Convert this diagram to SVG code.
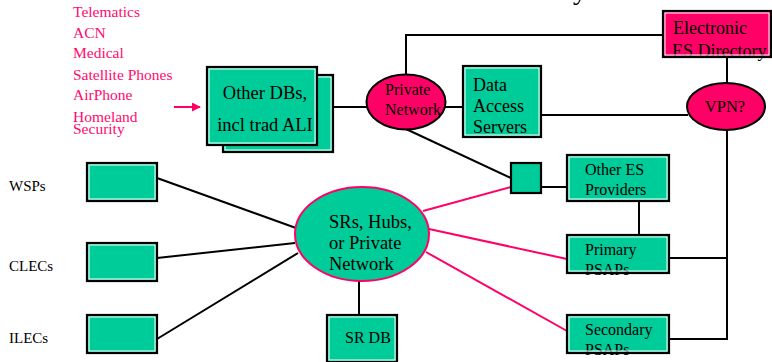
<svg xmlns="http://www.w3.org/2000/svg" width="772" height="362" viewBox="0 0 772 362">
<style>
text{font-family:"Liberation Serif","Times New Roman",serif;fill:#000}
.box{fill:#00CC99;stroke:none}
.bd{fill:none;stroke:#000;stroke-width:2.2}
.hi{fill:none;stroke:#fff;stroke-width:1}
.ln{stroke:#000;stroke-width:2;fill:none}
.pk{stroke:#FF0066;stroke-width:2;fill:none}
.pt{fill:#FF0A6E;font-size:15.5px}
.t17{font-size:18px}
.t15{font-size:16px}
.lab{font-size:15px}
</style>
<defs>
<marker id="ah" viewBox="0 0 10 10" refX="9" refY="5" markerWidth="9" markerHeight="9" markerUnits="userSpaceOnUse" orient="auto">
<path d="M0,0 L10,5 L0,10 z" fill="#FF0066"/>
</marker>
</defs>

<!-- cut-off title descender -->
<text x="573" y="-1" style="font-size:28px">y</text>

<g id="sources">
<text class="pt" x="73" y="17">Telematics</text>
<text class="pt" x="73" y="38">ACN</text>
<text class="pt" x="73" y="58">Medical</text>
<text class="pt" x="73" y="80">Satellite Phones</text>
<text class="pt" x="73" y="100">AirPhone</text>
<text class="pt" x="73" y="122">Homeland</text>
<text class="pt" x="73" y="134">Security</text>
</g>

<g id="connectors">
<line class="pk" x1="174" y1="107" x2="200" y2="107" marker-end="url(#ah)"/>
<line class="ln" x1="333" y1="107" x2="367" y2="107"/>
<polyline class="ln" points="406,75 406,35 663,35"/>
<line class="ln" x1="445" y1="107" x2="463" y2="107"/>
<line class="ln" x1="541" y1="115" x2="688" y2="115"/>
<line class="ln" x1="727" y1="57" x2="727" y2="83"/>
<polyline class="ln" points="727,130 727,339 669,339"/>
<line class="ln" x1="669" y1="258" x2="727" y2="258"/>
<line class="ln" x1="406" y1="129" x2="511" y2="178"/>
<line class="ln" x1="541" y1="187" x2="567" y2="187"/>
<line class="ln" x1="639" y1="201" x2="639" y2="235"/>
<line class="pk" x1="423" y1="211" x2="511" y2="187"/>
<line class="pk" x1="429" y1="229" x2="567" y2="259"/>
<line class="pk" x1="426" y1="252" x2="567" y2="331"/>
<line class="ln" x1="157" y1="178" x2="296" y2="228"/>
<line class="ln" x1="157" y1="258" x2="295" y2="243"/>
<line class="ln" x1="157" y1="339" x2="298" y2="253"/>
<line class="ln" x1="359" y1="281" x2="359" y2="314"/>
</g>

<g id="other-dbs">
<rect class="box" x="223" y="75" width="110" height="77"/>
<rect class="bd" x="223" y="75" width="110" height="77"/>
<rect class="hi" x="225" y="77" width="106" height="73"/>
<rect class="box" x="207" y="67" width="110" height="78"/>
<rect class="bd" x="207" y="67" width="110" height="78"/>
<rect class="hi" x="209" y="69" width="106" height="74"/>
<text x="265" y="99" text-anchor="middle" style="font-size:18.5px">Other DBs,</text>
<text x="265" y="131" text-anchor="middle" style="font-size:18.5px">incl trad ALI</text>
</g>

<g id="private-network">
<ellipse cx="406" cy="102" rx="39.5" ry="27.5" fill="#FF0066" stroke="#000" stroke-width="2"/>
<text x="385" y="95" style="font-size:16px">Private</text>
<text x="385" y="115" style="font-size:16px">Network</text>
</g>

<g id="data-access">
<rect class="box" x="463" y="66" width="78" height="71"/>
<text class="t17" x="473" y="91">Data</text>
<text class="t17" x="473" y="112">Access</text>
<text class="t17" x="473" y="133">Servers</text>
<rect class="bd" x="463" y="66" width="78" height="71"/>
<rect class="hi" x="465" y="68" width="74" height="67"/>
</g>

<g id="es-directory">
<rect x="663" y="11" width="108" height="46" fill="#FF0066"/>
<text class="t17" x="673" y="34">Electronic</text>
<text class="t17" x="672" y="57">ES Directory</text>
<rect class="bd" x="663" y="11" width="108" height="46"/>
<rect class="hi" x="665" y="13" width="104" height="42"/>
</g>

<g id="vpn">
<ellipse cx="726" cy="106.5" rx="39" ry="23.5" fill="#FF0066" stroke="#000" stroke-width="2"/>
<text x="725" y="112" text-anchor="middle" style="font-size:16.5px">VPN?</text>
</g>

<g id="junction">
<rect class="box" x="511" y="163" width="30" height="30"/>
<rect class="bd" x="511" y="163" width="30" height="30"/>
</g>

<g id="other-es">
<rect class="box" x="567" y="155" width="102" height="46"/>
<text class="t15" x="585" y="175">Other ES</text>
<text class="t15" x="585" y="195">Providers</text>
<rect class="bd" x="567" y="155" width="102" height="46"/>
<rect class="hi" x="569" y="157" width="98" height="42"/>
</g>

<g id="primary">
<rect class="box" x="567" y="235" width="102" height="38"/>
<text class="t15" x="585" y="255">Primary</text>
<text class="t15" x="585" y="275">PSAPs</text>
<rect class="bd" x="567" y="235" width="102" height="38"/>
<rect class="hi" x="569" y="237" width="98" height="34"/>
</g>

<g id="secondary">
<rect class="box" x="567" y="315" width="102" height="38"/>
<text class="t15" x="585" y="335">Secondary</text>
<text class="t15" x="585" y="355">PSAPs</text>
<rect class="bd" x="567" y="315" width="102" height="38"/>
<rect class="hi" x="569" y="317" width="98" height="34"/>
</g>

<g id="srs">
<ellipse cx="362" cy="234" rx="67" ry="47" fill="#00CC99" stroke="#FF0066" stroke-width="2"/>
<text x="329" y="228" style="font-size:18.5px">SRs, Hubs,</text>
<text x="329" y="249" style="font-size:18.5px">or Private</text>
<text x="329" y="270" style="font-size:18.5px">Network</text>
</g>

<g id="srdb">
<rect class="box" x="327" y="315" width="70" height="47"/>
<rect class="bd" x="327" y="315" width="70" height="47"/>
<rect class="hi" x="329" y="317" width="66" height="43"/>
<text x="345" y="343" style="font-size:16px">SR DB</text>
</g>

<g id="wsps">
<rect class="box" x="87" y="163" width="70" height="38"/>
<rect class="bd" x="87" y="163" width="70" height="38"/>
<rect class="hi" x="89" y="165" width="66" height="34"/>
<text class="lab" x="9" y="191">WSPs</text>
</g>

<g id="clecs">
<rect class="box" x="87" y="243" width="70" height="38"/>
<rect class="bd" x="87" y="243" width="70" height="38"/>
<rect class="hi" x="89" y="245" width="66" height="34"/>
<text class="lab" x="9" y="271">CLECs</text>
</g>

<g id="ilecs">
<rect class="box" x="87" y="315" width="70" height="38"/>
<rect class="bd" x="87" y="315" width="70" height="38"/>
<rect class="hi" x="89" y="317" width="66" height="34"/>
<text class="lab" x="9" y="343">ILECs</text>
</g>
</svg>
